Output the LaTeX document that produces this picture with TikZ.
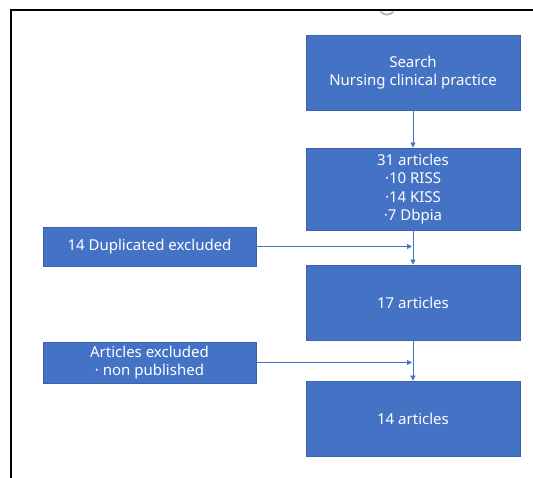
\documentclass[tikz,border=0pt]{standalone}
\usepackage{fontspec}
\setmainfont{Noto Sans}
\usetikzlibrary{arrows.meta}
\definecolor{boxblue}{HTML}{4472C4}
\definecolor{boxedge}{HTML}{3A62AA}
\begin{document}
\begin{tikzpicture}[x=1pt,y=-1pt,
  box/.style={draw=boxedge, line width=0.8pt, fill=boxblue, text=white, align=center,
    inner sep=0pt, font=\fontsize{15}{18.5}\selectfont},
  bigbox/.style={box, minimum width=214pt, minimum height=75pt},
  sidebox/.style={box, minimum width=213pt},
  arr/.style={draw=boxblue, line width=0.8pt, -{Triangle[width=5pt,length=5pt]}}]
\useasboundingbox (0,0) rectangle (533,478);
\fill[white] (0,0) rectangle (533,478);
\draw[line width=1.2pt] (11,478) -- (11,10) -- (533,10);
\draw[gray!60, line width=1.8pt, line cap=round] (381,12) .. controls (384,15.5) and (390,15.5) .. (393,12);
\node[bigbox] (search) at (413,72.5) {Search\\Nursing clinical practice};
\node[bigbox, minimum height=82pt] (a31) at (413,189) {31 articles\\·10 RISS\\·14 KISS\\·7 Dbpia};
\node[bigbox] (a17) at (413,302.5) {17 articles};
\node[bigbox] (a14) at (413,418.5) {14 articles};
\node[sidebox, minimum height=39pt] (dup) at (149.5,246.5) {14 Duplicated excluded};
\node[sidebox, minimum height=41pt] (exc) at (149.5,362.5) {Articles excluded\\· non published};
\draw[arr] (search) -- (a31);
\draw[arr] (a31) -- (a17);
\draw[arr] (a17) -- (a14);
\coordinate (d1) at (dup.east -| a31.south);
\coordinate (d2) at (exc.east -| a17.south);
\draw[arr] (dup.east) -- ([xshift=-1pt]d1);
\draw[arr] (exc.east) -- ([xshift=-1pt]d2);
\end{tikzpicture}
\end{document}
